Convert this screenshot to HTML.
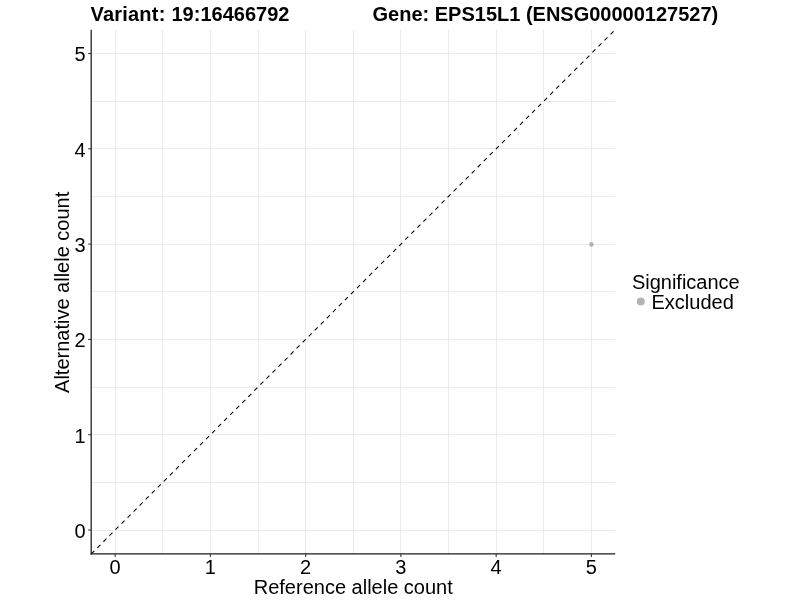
<!DOCTYPE html>
<html><head><meta charset="utf-8"><style>
html,body{margin:0;padding:0;background:#fff;width:800px;height:600px;overflow:hidden}
svg{display:block;will-change:transform}
.t{font-family:"Liberation Sans",sans-serif;font-size:20px;fill:#000}
.b{font-family:"Liberation Sans",sans-serif;font-size:20px;font-weight:bold;fill:#000}
</style></head><body>
<svg width="800" height="600" viewBox="0 0 800 600">
<rect width="800" height="600" fill="#fff"/>
<line x1="115.50" y1="29.68" x2="115.50" y2="553.83" stroke="#ebebeb" stroke-width="1"/>
<line x1="91.34" y1="530.50" x2="615.21" y2="530.50" stroke="#ebebeb" stroke-width="1"/>
<line x1="162.50" y1="29.68" x2="162.50" y2="553.83" stroke="#ebebeb" stroke-width="1"/>
<line x1="91.34" y1="482.50" x2="615.21" y2="482.50" stroke="#ebebeb" stroke-width="1"/>
<line x1="210.50" y1="29.68" x2="210.50" y2="553.83" stroke="#ebebeb" stroke-width="1"/>
<line x1="91.34" y1="434.50" x2="615.21" y2="434.50" stroke="#ebebeb" stroke-width="1"/>
<line x1="258.50" y1="29.68" x2="258.50" y2="553.83" stroke="#ebebeb" stroke-width="1"/>
<line x1="91.34" y1="387.50" x2="615.21" y2="387.50" stroke="#ebebeb" stroke-width="1"/>
<line x1="305.50" y1="29.68" x2="305.50" y2="553.83" stroke="#ebebeb" stroke-width="1"/>
<line x1="91.34" y1="339.50" x2="615.21" y2="339.50" stroke="#ebebeb" stroke-width="1"/>
<line x1="353.50" y1="29.68" x2="353.50" y2="553.83" stroke="#ebebeb" stroke-width="1"/>
<line x1="91.34" y1="291.50" x2="615.21" y2="291.50" stroke="#ebebeb" stroke-width="1"/>
<line x1="400.50" y1="29.68" x2="400.50" y2="553.83" stroke="#ebebeb" stroke-width="1"/>
<line x1="91.34" y1="244.50" x2="615.21" y2="244.50" stroke="#ebebeb" stroke-width="1"/>
<line x1="448.50" y1="29.68" x2="448.50" y2="553.83" stroke="#ebebeb" stroke-width="1"/>
<line x1="91.34" y1="196.50" x2="615.21" y2="196.50" stroke="#ebebeb" stroke-width="1"/>
<line x1="496.50" y1="29.68" x2="496.50" y2="553.83" stroke="#ebebeb" stroke-width="1"/>
<line x1="91.34" y1="148.50" x2="615.21" y2="148.50" stroke="#ebebeb" stroke-width="1"/>
<line x1="543.50" y1="29.68" x2="543.50" y2="553.83" stroke="#ebebeb" stroke-width="1"/>
<line x1="91.34" y1="101.50" x2="615.21" y2="101.50" stroke="#ebebeb" stroke-width="1"/>
<line x1="591.50" y1="29.68" x2="591.50" y2="553.83" stroke="#ebebeb" stroke-width="1"/>
<line x1="91.34" y1="53.50" x2="615.21" y2="53.50" stroke="#ebebeb" stroke-width="1"/>
<line x1="91.34" y1="553.83" x2="615.21" y2="29.68" stroke="#000" stroke-width="1.07" stroke-dasharray="4.27 4.27"/>
<circle cx="591.40" cy="244.40" r="2.3" fill="#b3b3b3"/>
<line x1="91.20" y1="29.68" x2="91.20" y2="554.52" stroke="#1a1a1a" stroke-width="1.25"/>
<line x1="90.58" y1="553.90" x2="615.21" y2="553.90" stroke="#1a1a1a" stroke-width="1.25"/>
<line x1="115.15" y1="553.90" x2="115.15" y2="556.90" stroke="#333333" stroke-width="1.07"/>
<line x1="88.20" y1="530.00" x2="91.20" y2="530.00" stroke="#333333" stroke-width="1.07"/>
<text x="115.15" y="574" text-anchor="middle" class="t">0</text>
<text x="85.65" y="537.80" text-anchor="end" class="t">0</text>
<line x1="210.40" y1="553.90" x2="210.40" y2="556.90" stroke="#333333" stroke-width="1.07"/>
<line x1="88.20" y1="434.70" x2="91.20" y2="434.70" stroke="#333333" stroke-width="1.07"/>
<text x="210.40" y="574" text-anchor="middle" class="t">1</text>
<text x="85.65" y="442.50" text-anchor="end" class="t">1</text>
<line x1="305.65" y1="553.90" x2="305.65" y2="556.90" stroke="#333333" stroke-width="1.07"/>
<line x1="88.20" y1="339.40" x2="91.20" y2="339.40" stroke="#333333" stroke-width="1.07"/>
<text x="305.65" y="574" text-anchor="middle" class="t">2</text>
<text x="85.65" y="347.20" text-anchor="end" class="t">2</text>
<line x1="400.90" y1="553.90" x2="400.90" y2="556.90" stroke="#333333" stroke-width="1.07"/>
<line x1="88.20" y1="244.10" x2="91.20" y2="244.10" stroke="#333333" stroke-width="1.07"/>
<text x="400.90" y="574" text-anchor="middle" class="t">3</text>
<text x="85.65" y="251.90" text-anchor="end" class="t">3</text>
<line x1="496.15" y1="553.90" x2="496.15" y2="556.90" stroke="#333333" stroke-width="1.07"/>
<line x1="88.20" y1="148.80" x2="91.20" y2="148.80" stroke="#333333" stroke-width="1.07"/>
<text x="496.15" y="574" text-anchor="middle" class="t">4</text>
<text x="85.65" y="156.60" text-anchor="end" class="t">4</text>
<line x1="591.40" y1="553.90" x2="591.40" y2="556.90" stroke="#333333" stroke-width="1.07"/>
<line x1="88.20" y1="53.50" x2="91.20" y2="53.50" stroke="#333333" stroke-width="1.07"/>
<text x="591.40" y="574" text-anchor="middle" class="t">5</text>
<text x="85.65" y="61.30" text-anchor="end" class="t">5</text>
<text x="90.5" y="21" class="b" letter-spacing="0.21">Variant:</text>
<text x="171.5" y="21" class="b">19:16466792</text>
<text x="372.5" y="21" class="b">Gene: EPS15L1 (ENSG00000127527)</text>
<text x="353.27" y="594" text-anchor="middle" class="t">Reference allele count</text>
<text transform="translate(69,292.35) rotate(-90)" x="0" y="0" text-anchor="middle" class="t">Alternative allele count</text>
<text x="631.9" y="289.2" class="t">Significance</text>
<circle cx="640.8" cy="301.4" r="4" fill="#b3b3b3"/>
<text x="651.5" y="308.8" class="t">Excluded</text>
</svg>
</body></html>
